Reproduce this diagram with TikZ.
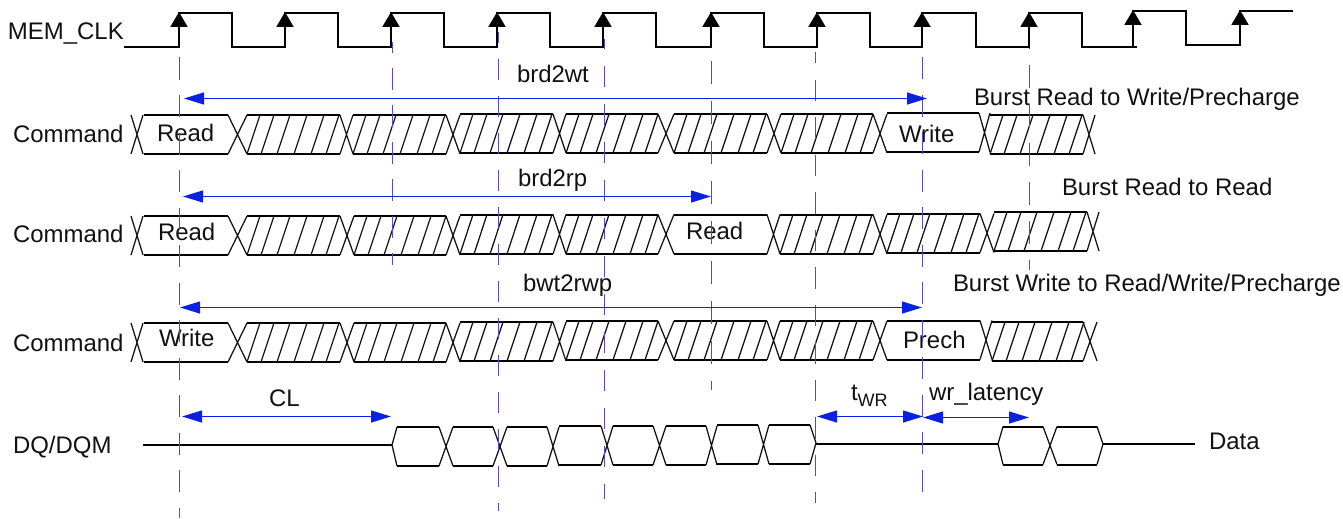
\documentclass[tikz,border=0pt]{standalone}
\usepackage{fontspec}
\setmainfont{Liberation Sans}
\usetikzlibrary{arrows.meta}
\definecolor{guidec}{HTML}{5A48CC}
\definecolor{dimc}{HTML}{0A22E0}
\definecolor{inkc}{HTML}{111111}
\tikzset{
  txt/.style={anchor=base west,inner sep=0pt,outer sep=0pt,text=inkc,font=\fontsize{23.95}{28}\selectfont},
  bar/.style={draw=black,line width=2pt},
  thin line/.style={draw=inkc,line width=1.25pt},
  guide/.style={draw=guidec,line width=1pt},
  dim/.style={draw=dimc,line width=1.1pt,{Triangle[length=20pt,width=12pt,fill=dimc]}-{Triangle[length=20pt,width=12pt,fill=dimc]}},
  clkarrow/.style={draw=black,line width=2pt,-{Triangle[length=15pt,width=17pt,fill=black]}}
}
% cells: start/end/next start/top/bottom/hatched?
\newcommand{\buscells}[1]{%
  \foreach \a/\b/\n/\t/\u/\h in {#1}{%
    \draw[bar] (\a,\t) -- (\b,\t) (\a,\u) -- (\b,\u);
    \draw[thin line] (\b,\t) -- (\n,\u) (\b,\u) -- (\n,\t);
    \ifnum\h=1
      \foreach \o in {0,14,30,47,64,79}{%
        \draw[thin line] (\a+\o,\u) -- (\a+\o+13,\t);
      }
    \fi
  }%
}
\newcommand{\guideline}[6]{% x, y0, y1, dash on, dash off, phase
  \draw[guide,dash pattern=on #4pt off #5pt,dash phase=#6pt] (#1,#2) -- (#1,#3);
}
\begin{document}
\begin{tikzpicture}[x=1pt,y=-1pt]
\useasboundingbox (0,0) rectangle (1343,519);
\fill[white] (0,0) rectangle (1343,519);

% Command rows
\draw[thin line] (131,115) -- (143,154) (131,154) -- (143,115);
\buscells{144/228/247/115/154/0,247/340/353/115/154/1,353/446/460/115/154/1,460/553/566/114/153/1,566/658/674/114/153/1,674/767/781/114/153/1,781/873/887/114/153/1,887/979/990/113/152/0,990/1083/1095/115/154/1}
\draw[thin line] (131,216) -- (143,255) (131,255) -- (143,216);
\buscells{144/228/247/216/255/0,247/340/354/216/255/1,354/446/460/216/255/1,460/553/566/214.5/254/1,566/658/674/214.5/254/1,674/767/780/214.5/254/0,780/873/887/214.5/254/1,887/980/994/213.5/252.5/1,994/1087/1099/212/251/1}
\draw[thin line] (131,323) -- (143,362) (131,362) -- (143,323);
\buscells{144/228/247/323/362/0,247/340/354/323/362/1,354/446/460/323/362/1,460/553/566/322/361/1,566/658/674/321/360/1,674/767/780/321/360/1,780/873/887/321/360/1,887/980/992/320.5/359.5/0,992/1083/1097/322/361/1}

% DQ row
\draw[bar] (143,445) -- (392,445);
\draw[thin line] (392,445) -- (397,427) (392,445) -- (397,466);
\buscells{397/439/453/427/466/0,453/493/507/427/466/0,507/547/559/427/466/0,559/601/613/426/465/0,613/653/666/426/465/0,666/706/717/426/465/0,717/758/769/425/464/0}
\draw[bar] (769,425) -- (810,425) (769,464) -- (810,464);
\draw[thin line] (810,425) -- (816,443) -- (810,464);
\draw[bar] (816,443.5) -- (998,443.5);
\draw[thin line] (998,444) -- (1003,426.5) (998,444) -- (1003,464.5);
\buscells{1003/1043/1057/426.5/464.5/0}
\draw[bar] (1057,426.5) -- (1097,426.5) (1057,464.5) -- (1097,464.5);
\draw[thin line] (1097,426.5) -- (1103,444) -- (1097,464.5);
\draw[bar] (1103,444) -- (1195,444);

% Labels
\node[txt] (lclk) at (8,40) {MEM\_CLK};
\node[txt] (lc1) at (13,142) {Command};
\node[txt] (lc2) at (13,242) {Command};
\node[txt] (lc3) at (13,351) {Command};
\node[txt] (ldq) at (13,453) {DQ/DQM};
\node[txt] (ldata) at (1209,449) {Data};
\node[txt] (r1) at (157,141) {Read};
\node[txt] (w1) at (899,142) {Write};
\node[txt] (r2) at (158,240) {Read};
\node[txt] (r3) at (686,239) {Read};
\node[txt] (w3) at (159,346) {Write};
\node[txt] (p3) at (903,348) {Prech};
\node[txt] (tb1) at (517,82) {brd2wt};
\node[txt] (tb2) at (518,186) {brd2rp};
\node[txt] (tb3) at (523,291) {bwt2rwp};
\node[txt] (ttl1) at (974,105) {Burst Read to Write/Precharge};
\node[txt] (ttl2) at (1062,195) {Burst Read to Read};
\node[txt] (ttl3) at (953,291) {Burst Write to Read/Write/Precharge};
\node[txt] (tcl) at (269,406) {CL};
\node[txt] (twr) at (851,400) {t\raisebox{-6pt}{\fontsize{18}{20}\selectfont WR}};
\node[txt] (twl) at (929,400.5) {wr\_latency};

% Guides
\guideline{179}{20}{518}{22}{15.5}{0}
\guideline{392}{42}{265}{22}{15}{11}
\guideline{498}{32}{511}{21}{16}{10}
\guideline{604}{39}{499}{21}{17}{11}
\guideline{711}{33}{390}{23}{17}{12}
\guideline{815.5}{52}{503}{21.5}{16}{10}
\guideline{922}{10}{500}{22}{15.5}{28}
\guideline{1029}{37}{270}{23}{16}{11}

% Dimension arrows
\coordinate (a1l) at (184,98.5); \coordinate (a1r) at (927,98.5);
\coordinate (a2l) at (183,196.5); \coordinate (a2r) at (711,196.5);
\coordinate (a3l) at (180,307.5); \coordinate (a3r) at (922,307.5);
\coordinate (a4l) at (182,416.5); \coordinate (a4r) at (391,416.5);
\coordinate (a5l) at (817,416.5); \coordinate (a5r) at (923,416.5);
\coordinate (a6l) at (923,417.5); \coordinate (a6r) at (1029,417.5);
\foreach \i in {1,...,6}{\draw[dim] (a\i l) -- (a\i r);}

% Clock
\draw[bar,line join=miter] (124,47.5) -- (179,47.5) -- (179,13.5) -- (232,13.5) -- (232,47) -- (285,47) -- (285,13.5) -- (338,13.5) -- (338,47) -- (391,47) -- (391,13.5) -- (444,13.5) -- (444,47) -- (497,47) -- (497,13) -- (550,13) -- (550,47) -- (603,47) -- (603,13) -- (656,13) -- (656,47) -- (711,47) -- (711,13) -- (764,13) -- (764,47) -- (817,47) -- (817,13) -- (870,13) -- (870,47) -- (922,47) -- (922,13) -- (976,13) -- (976,47) -- (1029,47) -- (1029,13) -- (1082,13) -- (1082,47) -- (1137,47);
\draw[bar] (1133,47) -- (1133,11) -- (1186,11) -- (1186,45) -- (1240,45) -- (1240,11) -- (1293,11);
\foreach \x/\yl/\yh in {179/47.5/12,285/47/12,391/47/12,497/47/12,603/47/12,711/47/12,817/47/12,922/47/12,1029/47/12,1133/47/10,1240/45/10}{
  \draw[clkarrow] (\x,\yl) -- (\x,\yh);
}
\end{tikzpicture}
\end{document}
